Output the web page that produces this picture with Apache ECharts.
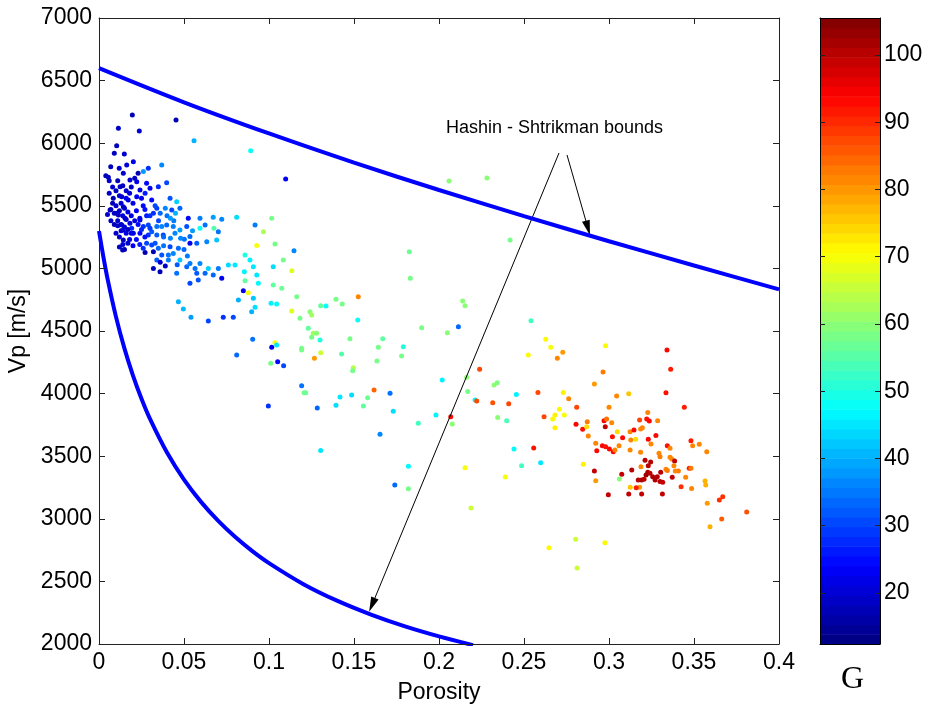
<!DOCTYPE html>
<html><head><meta charset="utf-8">
<script src="https://cdn.jsdelivr.net/npm/echarts@6/dist/echarts.min.js"></script>
<style>html,body{margin:0;padding:0;background:#fff}#c{width:928px;height:706px}</style>
</head><body><div id="c"></div>
<script>
// Hashin-Shtrikman upper bound
const upperPorosity = [0, 0.05, 0.10, 0.15, 0.20, 0.25, 0.30, 0.35, 0.40];
const upperVp = [6600, 6327, 6078, 5845, 5626, 5418, 5217, 5023, 4833];
// Hashin-Shtrikman lower bound
const lowerPorosity = [0, 0.0025, 0.005, 0.01, 0.015, 0.02, 0.025, 0.03, 0.04, 0.05, 0.06, 0.07, 0.08, 0.09, 0.10, 0.12, 0.14, 0.16, 0.18, 0.20, 0.22];
const lowerVp = [5299, 5098, 4919, 4613, 4359, 4144, 3959, 3798, 3529, 3313, 3135, 2985, 2856, 2744, 2646, 2480, 2346, 2235, 2141, 2061, 1991];

// samples: [porosity, Vp, G]
const lowPorositySamples = [
[.0196,6225,17],[.0453,6185,16],[.0114,6119,18],[.0237,6097,19],[.0104,5980,17],[.009,5920,18],[.0149,5914,19],
[.0055,5728,18],[.0069,5812,17],[.0119,5800,19],[.0163,5825,20],[.0202,5852,21],[.0143,5759,19],[.0182,5706,20],[.0222,5693,22],[.0261,5773,38],[.029,5800,28],[.0369,5826,36],[.0398,5685,30],[.0349,5653,27],[.03,5640,22],[.0241,5626,21],[.0124,5653,18],[.0084,5560,17],[.0065,5466,19],[.0104,5440,20],[.0143,5493,19],[.0172,5546,21],[.0134,5573,18],[.0222,5573,23],[.0271,5600,26],[.031,5546,24],[.034,5480,29],[.0418,5560,31],[.0457,5533,43],[.0428,5466,30],[.0476,5480,33],[.0525,5400,24],[.0114,5427,18],[.0153,5400,19],[.0182,5360,20],[.0134,5347,17],[.0143,5307,18],[.0192,5320,27],[.0241,5387,22],[.0261,5334,28],[.029,5347,30],[.031,5293,32],[.034,5334,34],[.0369,5334,36],[.0398,5347,33],[.0437,5334,35],[.0476,5307,38],[.0447,5280,36],[.0378,5267,30],[.034,5267,32],[.029,5267,28],[.0241,5280,24],[.0202,5280,22],[.0516,5334,31],[.0535,5254,33],[.0502,5233,34],[.0535,5200,22],[.0575,5200,32],[.0143,5227,18],[.0139,5147,17],[.0271,5126,16],[.032,5133,17],[.031,5187,30],[.0349,5160,33],[.0369,5107,31],[.0408,5107,34],[.0437,5120,36],[.0467,5160,33],[.0418,5173,30],[.032,5000,18],[.0359,4974,17],[.034,5067,32],[.0408,5067,35],[.0476,5067,42],[.0457,4961,34],[.0516,5014,33],[.0535,5040,35],[.0565,5000,34],[.0594,5040,36],[.0575,4961,32],[.0584,4907,31],[.0535,4881,30],[.0624,4961,33],
[.004,5740,17],[.006,5700,18],[.008,5650,19],[.010,5620,18],[.012,5580,20],[.013,5520,19],[.015,5480,18],[.017,5450,21],[.019,5420,20],[.011,5380,19],[.009,5440,18],[.007,5470,17],[.005,5430,19],[.016,5560,22],[.018,5600,20],[.020,5520,21],[.022,5460,23],[.024,5400,22],[.026,5500,24],[.021,5380,20],[.013,5350,19],[.016,5280,21],[.018,5230,20],[.014,5190,19],[.012,5170,18],[.023,5350,24],[.025,5310,27],[.028,5420,26],[.027,5250,25],[.032,5440,28],[.035,5380,30],[.030,5320,29],[.033,5200,31],[.038,5250,33],[.040,5420,34],[.044,5380,35],[.048,5240,36],[.050,5150,33],[.052,5100,35],[.055,5300,38],[.046,5030,32],
[.006,5600,18],[.008,5520,17],[.010,5500,19],[.012,5460,18],[.014,5420,20],[.016,5390,19],[.011,5340,18],[.013,5300,19],[.015,5330,20],[.017,5310,18],[.019,5280,21],[.009,5350,17],[.007,5380,18],[.010,5280,19],[.012,5250,18],[.015,5150,17],[.017,5200,19],[.020,5180,22],[.022,5230,24],[.024,5190,26],[.026,5160,28],[.028,5200,30],[.019,5650,19],[.021,5720,18],[.023,5760,17],[.014,5660,18],[.016,5620,19],[.011,5700,17],[.028,5680,24],[.025,5560,22],[.027,5470,25],[.030,5420,28],[.033,5500,30],[.036,5440,33],[.039,5480,36],[.042,5400,38],[.045,5440,40],[.038,5180,34],[.042,5240,36],[.036,5050,19],[.039,5020,18]
];
const midPorositySamples = [
[.0559,6020,40],[.0892,5940,48],[.1098,5714,22],
[.0594,5400,35],[.0672,5408,38],[.0722,5392,36],[.081,5408,44],[.0594,5320,48],[.0624,5347,34],[.0634,5213,36],[.0692,5227,42],[.0676,5320,55],[.0702,5293,34],[.0643,5000,43],[.0702,5000,35],[.0672,4947,33],[.0722,4921,22],[.0761,5027,44],[.08,5027,45],[.0859,5107,50],[.0888,5067,46],[.0908,5014,45],[.0918,5347,35],[.0967,5293,63],[.1016,5400,58],[.0928,5182,70],[.1035,5195,58],[.1147,5141,36],[.0855,4974,46],[.0859,4902,56],[.0928,4947,45],[.0937,4881,47],[.1025,5014,44],[.1084,5067,58],[.1134,4981,68],[.1025,4867,56],[.1075,4841,57],[.0878,4806,70],[.0849,4822,22],[.082,4748,40],[.0908,4761,42],[.0898,4654,40],[.0918,4689,44],[.1012,4721,46],[.1045,4716,47],[.0467,4734,40],[.0496,4676,41],[.0541,4609,38],[.0643,4580,30],[.0731,4609,28],[.079,4609,30],[.1134,4660,68],[.1163,4774,58],[.1241,4654,60],[.1251,4628,62],[.1182,4601,58],[.1304,4702,56],[.1335,4700,48],[.1394,4753,58],[.1231,4522,56],[.126,4482,62],[.128,4482,60],[.1251,4450,58],[.13,4428,50],[.0904,4434,34],[.1016,4370,22],[.1035,4407,70],[.1192,4362,58],
[.1525,4774,82],[.1825,5133,57],[.1831,4921,58],[.1431,4716,58],[.1522,4588,48],[.1898,4526,58],[.2049,4487,60],[.1476,4438,58],[.1669,4438,56],[.1643,4370,58],[.179,4375,50],[.178,4300,58],[.1635,4260,58],[.1427,4316,55],[.1304,4327,66],[.1192,4348,58],[.1045,4388,45],[.081,4308,33],[.101,4242,58],[.1051,4255,24],[.1086,4223,30],[.1267,4282,80],[.1496,4207,64],[.1492,4183,58],[.1192,4063,34],[.1206,4007,58],[.1216,4007,57],[.0996,3901,28],[.1284,3885,33],[.1394,3906,44],[.1418,3973,45],[.1486,3989,44],[.1555,3901,56],[.158,3967,57],[.1618,4029,85],[.1712,4002,34],[.1731,3859,44],[.1878,3763,53],[.1653,3675,36],[.1982,3829,46],[.2019,4109,46],[.2069,3815,93],[.1304,3545,45],
[.174,3270,33],[.182,3240,58],[.182,3420,47]
];
const highPorositySamples = [
[.2059,5698,60],[.2282,5722,60],[.2418,5227,58],
[.2139,4740,60],[.2153,4702,60],[.2114,4534,33],[.2541,4582,53],[.2628,4434,71],[.2657,4370,70],[.2728,4330,80],[.2525,4308,71],[.2696,4282,82],[.298,4383,71],[.3341,4348,94],[.3363,4194,92],[.2239,4194,88],[.2965,4173,83],[.2914,4077,80],[.2163,4130,60],[.2324,4069,60],[.2343,4087,59],[.2169,4016,58],[.2212,3949,47],[.2455,3992,46],[.2582,4008,88],[.2731,4008,72],[.2763,3959,82],[.3045,3980,82],[.3116,3999,76],[.3335,4007,93],[.2222,3941,88],[.2316,3927,87],[.241,3919,88],[.3,3890,82],[.3443,3890,92],[.2078,3757,60],[.2345,3810,60],[.2398,3784,54],[.2618,3816,88],[.2682,3829,72],[.2708,3875,71],[.2737,3829,70],[.2669,3797,71],[.2682,3728,72],[.281,3890,88],[.2872,3776,83],[.2971,3784,94],[.2986,3797,84],[.3016,3768,82],[.2806,3755,94],[.2845,3715,93],[.2869,3736,74],[.2978,3736,100],[.2878,3661,82],[.302,3656,93],[.308,3648,94],[.3049,3696,74],[.3124,3696,82],[.3147,3709,94],[.3186,3717,82],[.3196,3728,82],[.3228,3850,82],[.318,3789,88],[.3222,3797,93],[.3237,3781,94],[.3286,3784,82],[.3276,3665,94],[.3231,3635,94],[.3247,3597,82],[.3343,3584,93],[.3359,3563,82],[.3128,3630,82],[.3157,3635,74],[.2922,3603,82],[.2928,3544,94],[.2961,3584,94],[.298,3576,93],[.3002,3557,94],[.3025,3536,94],[.3035,3550,82],[.3059,3584,82],[.3124,3550,82],[.3186,3531,82],[.3294,3523,82],[.33,3496,83],[.3359,3491,82],[.3369,3478,82],[.3386,3462,100],[.3382,3424,82],[.3408,3382,83],[.2849,3435,72],[.2914,3382,100],[.2922,3304,80],[.3075,3355,100],[.3134,3390,101],[.3188,3416,82],[.3212,3467,101],[.3245,3454,101],[.3231,3424,101],[.3228,3372,102],[.3241,3363,101],[.3218,3350,103],[.3257,3336,102],[.3284,3336,101],[.3271,3310,102],[.33,3297,101],[.3316,3291,100],[.3172,3310,101],[.3192,3310,102],[.3206,3316,101],[.3304,3372,101],[.3335,3396,82],[.3372,3332,100],[.3343,3385,83],[.339,3382,82],[.3424,3256,90],[.3451,3332,82],[.3472,3404,92],[.3482,3404,83],[.3492,3584,82],[.3482,3624,92],[.3531,3595,82],[.3575,3536,82],[.3486,3242,82],[.3565,3302,78],[.3569,3270,78],[.3578,3124,80],[.3649,3150,90],[.3669,3177,90],[.3663,2999,86],[.3594,2937,78],[.381,3055,87],[.2996,3192,100],[.3116,3198,100],[.3192,3198,100],[.3314,3198,100],[.3125,3251,76],[.318,3251,80],[.316,3248,92],[.3061,3318,60],[.2976,2809,71],[.2804,2836,66],[.2647,2769,71],[.2188,3086,66],[.2153,3408,70],[.239,3334,70],[.2441,3558,47],[.2486,3424,53],[.2598,3448,45],[.2557,3566,93],[.2812,2607,66]
];

// annotation arrows: [from, to] in data coords
const arrowLower = [[0.2706, 5922], [0.1606, 2312]];
const arrowUpper = [[0.2753, 5906], [0.2876, 5323]];
const annotationText = 'Hashin - Shtrikman bounds';

// colour bar
const gMin = 12.4, gMax = 105.5;
const colorTicks = [20, 30, 40, 50, 60, 70, 80, 90, 100];
const nColors = 64;

function jet(t) {
  const c = v => Math.max(0, Math.min(1, v));
  const r = c(1.5 - Math.abs(4 * t - 3)), g = c(1.5 - Math.abs(4 * t - 2)), b = c(1.5 - Math.abs(4 * t - 1));
  return 'rgb(' + Math.round(r * 255) + ',' + Math.round(g * 255) + ',' + Math.round(b * 255) + ')';
}
const jetColors = [];
for (let i = 0; i < nColors; i++) jetColors.push(jet((i + 0.5) / nColors));
const bands = [];
for (let i = 0; i < nColors; i++) {
  bands.push([0, gMin + (gMax - gMin) * i / nColors, gMin + (gMax - gMin) * (i + 1) / nColors, i]);
}

const FONT = 'Liberation Sans, Arial, Helvetica, sans-serif';
const chart = echarts.init(document.getElementById('c'));
const axisCommon = {
  axisLine: { show: true, onZero: false, lineStyle: { color: '#222', width: 1 } },
  axisTick: { show: true, inside: true, length: 6, lineStyle: { color: '#222' } },
  splitLine: { show: false },
  z: 10
};
const samples = lowPorositySamples.concat(midPorositySamples, highPorositySamples);

chart.setOption({
  animation: false,
  backgroundColor: '#fff',
  grid: [
    { left: 99, top: 18, width: 680, height: 626, containLabel: false, outerBoundsMode: 'none' },
    { left: 820, top: 18, width: 60, height: 626, containLabel: false, outerBoundsMode: 'none' }
  ],
  xAxis: [
    Object.assign({}, axisCommon, { gridIndex: 0, type: 'value', min: 0, max: 0.4, interval: 0.05, position: 'bottom',
      name: 'Porosity', nameLocation: 'middle', nameGap: 37,
      nameTextStyle: { fontFamily: FONT, fontSize: 23, color: '#000' },
      axisLabel: { fontFamily: FONT, fontSize: 23, color: '#000', margin: 7,
        formatter: v => String(+v.toFixed(2)) } }),
    Object.assign({}, axisCommon, { gridIndex: 0, type: 'value', min: 0, max: 0.4, interval: 0.05, position: 'top',
      axisLabel: { show: false } }),
    { gridIndex: 1, type: 'value', min: 0, max: 1, position: 'bottom', z: 10,
      axisLine: { show: true, onZero: false, lineStyle: { color: '#000' } }, axisTick: { show: false }, axisLabel: { show: false }, splitLine: { show: false } },
    { gridIndex: 1, type: 'value', min: 0, max: 1, position: 'top', z: 10,
      axisLine: { show: true, onZero: false, lineStyle: { color: '#000' } }, axisTick: { show: false }, axisLabel: { show: false }, splitLine: { show: false } }
  ],
  yAxis: [
    Object.assign({}, axisCommon, { gridIndex: 0, type: 'value', min: 2000, max: 7000, interval: 500, position: 'left',
      name: 'Vp [m/s]', nameLocation: 'middle', nameGap: 47, nameRotate: 90,
      nameTextStyle: { fontFamily: FONT, fontSize: 23, color: '#000' },
      axisLabel: { fontFamily: FONT, fontSize: 23, color: '#000', margin: 7, formatter: v => String(v) } }),
    Object.assign({}, axisCommon, { gridIndex: 0, type: 'value', min: 2000, max: 7000, interval: 500, position: 'right',
      axisLabel: { show: false } }),
    { gridIndex: 1, type: 'value', min: gMin, max: gMax, position: 'right', z: 10,
      axisLine: { show: true, onZero: false, lineStyle: { color: '#000' } },
      axisTick: { show: true, inside: true, length: 5, customValues: colorTicks, lineStyle: { color: '#222' } },
      axisLabel: { fontFamily: FONT, fontSize: 23, color: '#000', margin: 4, customValues: colorTicks },
      splitLine: { show: false } },
    { gridIndex: 1, type: 'value', min: gMin, max: gMax, position: 'left', z: 10,
      axisLine: { show: true, onZero: false, lineStyle: { color: '#000' } },
      axisTick: { show: true, inside: true, length: 5, customValues: colorTicks, lineStyle: { color: '#222' } },
      axisLabel: { show: false }, splitLine: { show: false } }
  ],
  visualMap: {
    type: 'continuous', show: false, min: gMin, max: gMax, dimension: 2, seriesIndex: 0,
    inRange: { color: jetColors }
  },
  series: [
    { type: 'scatter', xAxisIndex: 0, yAxisIndex: 0, data: samples, symbolSize: 5, itemStyle: { opacity: 1 } },
    { type: 'line', xAxisIndex: 0, yAxisIndex: 0, data: upperPorosity.map((p, i) => [p, upperVp[i]]),
      showSymbol: false, smooth: 0.3, lineStyle: { color: '#0000ff', width: 4 }, z: 5 },
    { type: 'line', xAxisIndex: 0, yAxisIndex: 0, data: lowerPorosity.map((p, i) => [p, lowerVp[i]]),
      showSymbol: false, smooth: 0.3, clip: true, lineStyle: { color: '#0000ff', width: 4 }, z: 5,
      markLine: {
        silent: true, symbol: ['none', 'triangle'], symbolSize: [8, 15],
        lineStyle: { color: '#000', width: 1, type: 'solid' }, itemStyle: { color: '#000' }, label: { show: false },
        data: [
          [{ coord: arrowLower[0] }, { coord: arrowLower[1] }],
          [{ coord: arrowUpper[0] }, { coord: arrowUpper[1] }]
        ]
      } },
    { type: 'custom', xAxisIndex: 2, yAxisIndex: 2, data: bands, encode: { x: 0, y: [1, 2] },
      renderItem: function (params, api) {
        const p0 = api.coord([0, api.value(1)]);
        const p1 = api.coord([1, api.value(2)]);
        return { type: 'rect', shape: { x: p0[0], y: p1[1], width: p1[0] - p0[0], height: p0[1] - p1[1] + 0.6 },
          style: { fill: jetColors[api.value(3)] } };
      } }
  ],
  graphic: [
    { type: 'text', left: 446, top: 119, style: { text: annotationText, font: '18px ' + FONT, fill: '#000' } },
    { type: 'text', left: 841, top: 664, style: { text: 'G', font: '32px "Liberation Serif", "Times New Roman", serif', fill: '#000' } }
  ]
});
</script>
</body></html>
